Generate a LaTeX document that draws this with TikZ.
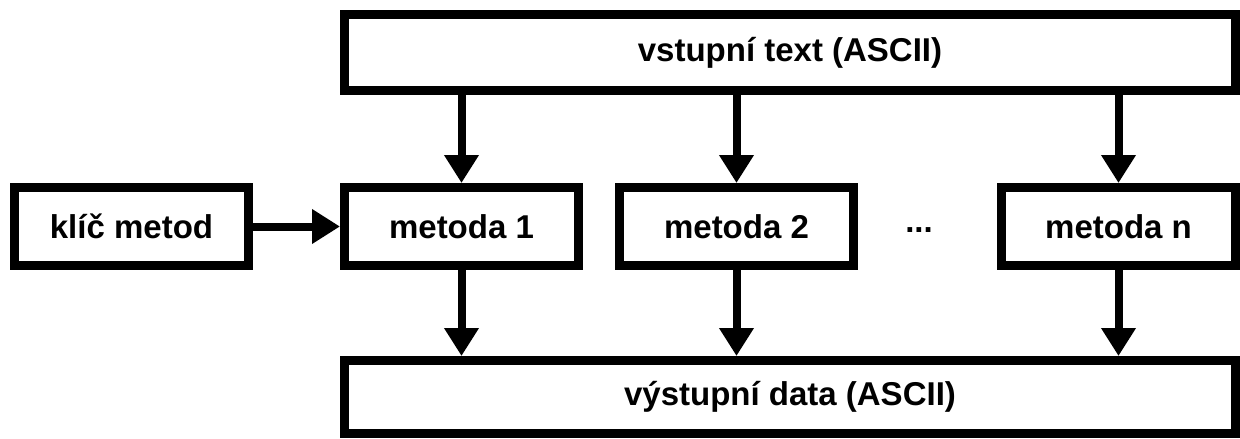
\documentclass[tikz,border=0pt]{standalone}
\usepackage{fontspec}
\setmainfont{Liberation Sans}
\usetikzlibrary{arrows.meta}
\tikzset{
  block/.style={draw=black, line width=9pt, fill=white, rectangle, inner sep=0pt,
    font=\fontsize{33}{36}\selectfont\bfseries},
  flow/.style={line width=8pt, -{Triangle[width=33pt,length=28pt]}},
}
\begin{document}
\begin{tikzpicture}[x=1pt, y=-1pt]
  \useasboundingbox (0,0) rectangle (1240,439);
  % input and output bars
  \node[block, minimum width=891pt, minimum height=76pt] (in) at (790,52.5) {vstupní text (ASCII)};
  \node[block, minimum width=891pt, minimum height=73pt] (out) at (790,397) {výstupní data (ASCII)};
  % key and the individual methods
  \node[block, minimum width=234pt, minimum height=78pt] (key) at (131.5,226.5) {klíč metod};
  \node[block, minimum width=234pt, minimum height=78pt] (m1) at (461.5,226.5) {metoda 1};
  \node[block, minimum width=234pt, minimum height=78pt] (m2) at (736.5,226.5) {metoda 2};
  \node[block, minimum width=234pt, minimum height=78pt] (mn) at (1118.5,226.5) {metoda n};
  \node[font=\fontsize{33}{36}\selectfont\bfseries, anchor=base, inner sep=0pt] (dots) at (919,232) {...};
  % connectors
  \draw[flow] (key.east) -- (m1.west);
  \foreach \m in {m1,m2,mn} {
    \draw[flow] (in.south -| \m) -- (\m.north);
    \draw[flow] (\m.south) -- (out.north -| \m);
  }
\end{tikzpicture}
\end{document}
